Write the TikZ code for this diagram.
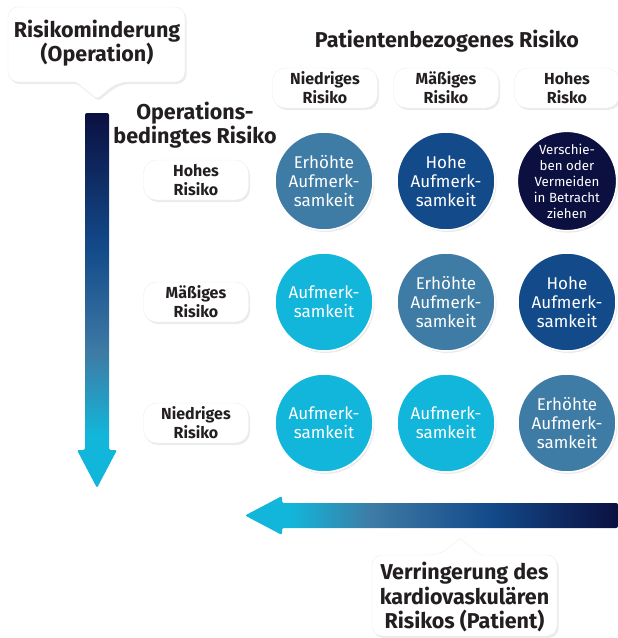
\documentclass[tikz,border=0pt]{standalone}
\usepackage{fontspec}
\setmainfont{Fira Sans}
\usetikzlibrary{shadows}
\definecolor{navy}{HTML}{0B1040}
\definecolor{hiblue}{HTML}{134A8A}
\definecolor{steel}{HTML}{3E7BA5}
\definecolor{cyanx}{HTML}{12B6DA}
\definecolor{txt}{HTML}{231F20}
\pgfdeclareverticalshading{vgrad}{100bp}{color(0bp)=(cyanx); color(32bp)=(cyanx); color(43bp)=(steel); color(57bp)=(hiblue); color(75bp)=(navy); color(100bp)=(navy)}
\pgfdeclarehorizontalshading{hgrad}{100bp}{color(0bp)=(cyanx); color(31bp)=(cyanx); color(42bp)=(steel); color(58bp)=(hiblue); color(75bp)=(navy); color(100bp)=(navy)}
\begin{document}
\begin{tikzpicture}[x=1pt,y=-1pt,
  softshadow/.style={drop shadow={opacity=0.16, shadow xshift=1.5pt, shadow yshift=-2pt}},
  lbl/.style={fill=white, draw=black!7, rounded corners=13pt, minimum width=105pt, minimum height=40pt,
    inner sep=0pt, align=center, font=\bfseries\fontsize{16}{19}\selectfont, text=txt, softshadow},
  circ/.style={circle, minimum size=98pt, inner sep=0pt, draw=white, line width=1.5pt, text=white,
    align=center, font=\fontsize{17}{19}\selectfont, softshadow},
  title/.style={align=center, font=\bfseries\fontsize{21.5}{24.5}\selectfont, text=txt, inner sep=0pt},
  callout/.style={fill=white, draw=black!7, softshadow}
]
\useasboundingbox (0,0) rectangle (618,638);

% top callout
\path[callout] (8,7) [rounded corners=10pt] -- (185,7) -- (185,82) -- (118,82) [rounded corners=3pt] -- (97,99) -- (76,82) [rounded corners=10pt] -- (8,82) -- cycle;
\node[title] (topc) at (97,43) {Risikominderung\\(Operation)};

% bottom callout
\path[callout] (372,555) [rounded corners=10pt] -- (440,555) [rounded corners=3pt] -- (460,538) -- (480,555) [rounded corners=10pt] -- (557,555) -- (557,636) -- (372,636) -- cycle;
\node[title] (botc) at (464.5,597) {Verringerung des\\kardiovaskulären\\Risikos (Patient)};

% vertical arrow
\shade[shading=vgrad, rounded corners=2pt] (85,113) -- (109,113) -- (109,450) -- (117,450) -- (97,488) -- (77,450) -- (85,450) -- cycle;

% horizontal arrow
\shade[shading=hgrad, rounded corners=2pt] (618,503) -- (282,503) -- (282,496) -- (245,515.5) -- (282,535) -- (282,528) -- (618,528) -- cycle;

% headings
\node[title] (pat) at (447,41) {Patientenbezogenes Risiko};
\node[title] (ops) at (195,125) {Operations-\\bedingtes Risiko};

% column labels
\node[lbl] (col1) at (325,88) {Niedriges\\Risiko};
\node[lbl] (col2) at (446,88) {Mäßiges\\Risiko};
\node[lbl] (col3) at (567,88) {Hohes\\Risko};

% row labels
\node[lbl] (row1) at (196,180) {Hohes\\Risiko};
\node[lbl] (row2) at (196,302) {Mäßiges\\Risiko};
\node[lbl] (row3) at (196,423) {Niedriges\\Risiko};

% circles
\node[circ, fill=steel] (c11) at (324,181) {Erhöhte\\Aufmerk-\\samkeit};
\node[circ, fill=hiblue] (c12) at (446,181) {Hohe\\Aufmerk-\\samkeit};
\node[circ, fill=navy, font=\fontsize{13.3}{16}\selectfont] (c13) at (567,181) {Verschie-\\ben oder\\Vermeiden\\in Betracht\\ziehen};
\node[circ, fill=cyanx] (c21) at (324,302) {Aufmerk-\\samkeit};
\node[circ, fill=steel] (c22) at (446,302) {Erhöhte\\Aufmerk-\\samkeit};
\node[circ, fill=hiblue] (c23) at (567,302) {Hohe\\Aufmerk-\\samkeit};
\node[circ, fill=cyanx] (c31) at (324,423) {Aufmerk-\\samkeit};
\node[circ, fill=cyanx] (c32) at (446,423) {Aufmerk-\\samkeit};
\node[circ, fill=steel] (c33) at (567,423) {Erhöhte\\Aufmerk-\\samkeit};
\end{tikzpicture}
\end{document}
